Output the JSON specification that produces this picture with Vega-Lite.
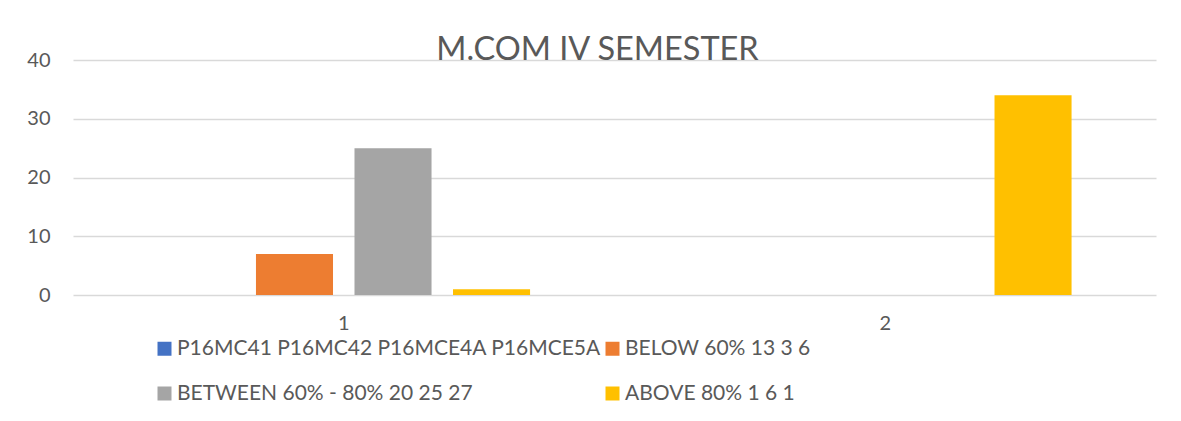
{
  "$schema": "https://vega.github.io/schema/vega-lite/v6.json",
  "width": 1083,
  "height": 235,
  "autosize": {"type": "none"},
  "padding": {"left": 73, "top": 60, "right": 25, "bottom": 126},
  "background": "white",
  "title": {
    "text": "M.COM IV SEMESTER",
    "anchor": "middle",
    "frame": "group",
    "font": "Lato",
    "fontSize": 32.5,
    "fontWeight": "normal",
    "color": "#595959",
    "baseline": "alphabetic",
    "offset": -1,
    "dx": -17,
    "dy": 41
  },
  "data": {
    "values": [
      {"cat": "1", "series": "P16MC41 P16MC42 P16MCE4A P16MCE5A", "value": 0},
      {"cat": "1", "series": "BELOW 60% 13 3 6", "value": 7},
      {"cat": "1", "series": "BETWEEN 60% - 80% 20 25 27", "value": 25},
      {"cat": "1", "series": "ABOVE 80% 1 6 1", "value": 1},
      {"cat": "2", "series": "P16MC41 P16MC42 P16MCE4A P16MCE5A", "value": 0},
      {"cat": "2", "series": "BELOW 60% 13 3 6", "value": 0},
      {"cat": "2", "series": "BETWEEN 60% - 80% 20 25 27", "value": 0},
      {"cat": "2", "series": "ABOVE 80% 1 6 1", "value": 34}
    ]
  },
  "mark": {"type": "bar"},
  "encoding": {
    "x": {
      "field": "cat",
      "type": "nominal",
      "scale": {"paddingInner": 0, "paddingOuter": 0},
      "axis": {
        "title": null,
        "labelAngle": 0,
        "ticks": false,
        "domain": false,
        "labelPadding": 18,
        "labelFont": "Lato",
        "labelFontSize": 20,
        "labelColor": "#595959"
      }
    },
    "xOffset": {
      "field": "series",
      "type": "nominal",
      "sort": ["P16MC41 P16MC42 P16MCE4A P16MCE5A", "BELOW 60% 13 3 6", "BETWEEN 60% - 80% 20 25 27", "ABOVE 80% 1 6 1"],
      "scale": {"paddingInner": 0.218, "paddingOuter": 0.857}
    },
    "y": {
      "field": "value",
      "type": "quantitative",
      "scale": {"domain": [0, 40]},
      "axis": {
        "title": null,
        "values": [0, 10, 20, 30, 40],
        "ticks": false,
        "domain": false,
        "labelPadding": 23,
        "labelFont": "Lato",
        "labelFontSize": 20,
        "labelColor": "#595959",
        "gridColor": "#d9d9d9",
        "gridWidth": 1.3
      }
    },
    "color": {
      "field": "series",
      "type": "nominal",
      "sort": ["P16MC41 P16MC42 P16MCE4A P16MCE5A", "BELOW 60% 13 3 6", "BETWEEN 60% - 80% 20 25 27", "ABOVE 80% 1 6 1"],
      "scale": {
        "domain": ["P16MC41 P16MC42 P16MCE4A P16MCE5A", "BELOW 60% 13 3 6", "BETWEEN 60% - 80% 20 25 27", "ABOVE 80% 1 6 1"],
        "range": ["#4472C4", "#ED7D31", "#A5A5A5", "#FFC000"]
      },
      "legend": {
        "title": null,
        "orient": "none",
        "legendX": 81,
        "legendY": 278,
        "direction": "horizontal",
        "columns": 2,
        "columnPadding": 1,
        "rowPadding": 23,
        "symbolType": "square",
        "symbolSize": 196,
        "symbolStrokeWidth": 0,
        "labelOffset": 2,
        "labelFont": "Lato",
        "labelFontSize": 21,
        "labelColor": "#595959",
        "labelLimit": 0
      }
    }
  },
  "config": {
    "view": {"stroke": null}
  }
}
